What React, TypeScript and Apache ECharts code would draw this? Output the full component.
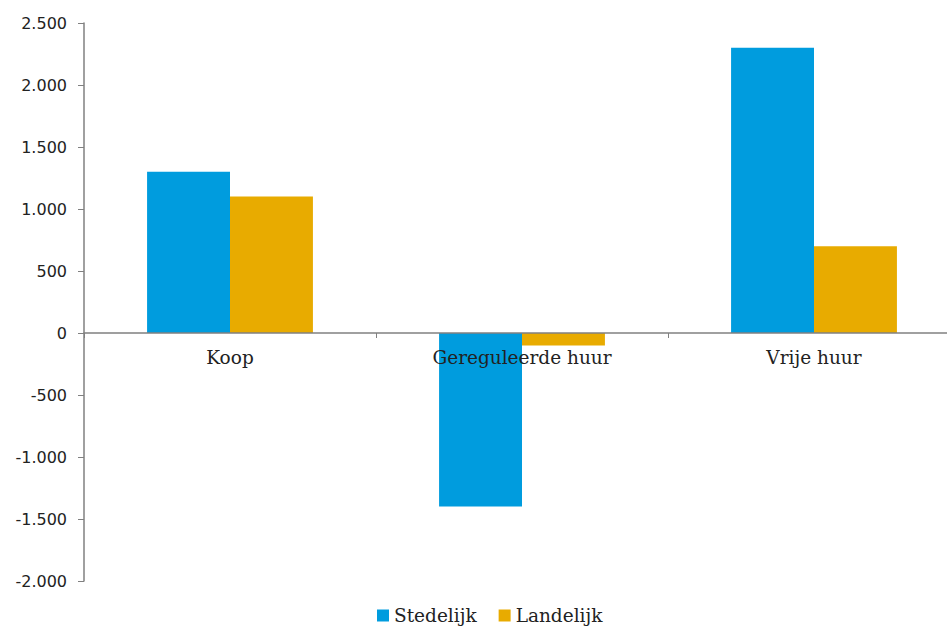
import React, { useEffect, useRef } from "react";
import * as echarts from "echarts";

const categories = ["Koop", "Gereguleerde huur", "Vrije huur"];
const stedelijk = [1300, -1400, 2300];
const landelijk = [1100, -100, 700];
const seriesNames = ["Stedelijk", "Landelijk"];

const fmt = (v: number) => {
  const s = Math.abs(v).toString().replace(/\B(?=(\d{3})+(?!\d))/g, ".");
  return (v < 0 ? "-" : "") + s;
};

export default function App() {
  const ref = useRef<HTMLDivElement>(null);
  useEffect(() => {
    if (!ref.current) return;
    const chart = echarts.init(ref.current, null, { renderer: "svg" });
    chart.setOption({
      animation: false,
      backgroundColor: "#ffffff",
      grid: { left: 84, right: 0, top: 23, bottom: 46, containLabel: false },
      legend: {
        bottom: -3,
        left: 372,
        itemWidth: 12,
        itemHeight: 12,
        itemGap: 22,
        icon: "rect",
        textStyle: { fontFamily: "DejaVu Serif", fontSize: 18.5, color: "#222" },
        data: seriesNames,
      },
      xAxis: {
        type: "category",
        data: categories,
        z: 5,
        axisLine: { onZero: true, lineStyle: { color: "#808080", width: 1.5 } },
        axisTick: { show: true, inside: false, length: 5, lineStyle: { color: "#808080" } },
        axisLabel: {
          fontFamily: "DejaVu Serif",
          fontSize: 18.5,
          color: "#222",
          margin: -233,
        },
      },
      yAxis: {
        type: "value",
        min: -2000,
        max: 2500,
        interval: 500,
        splitLine: { show: false },
        axisLine: { show: true, lineStyle: { color: "#808080", width: 1.5 } },
        axisTick: { show: true, length: 6, lineStyle: { color: "#808080" } },
        axisLabel: {
          fontFamily: "DejaVu Sans",
          fontSize: 16,
          color: "#222",
          margin: 17,
          formatter: (v: number) => fmt(v),
        },
      },
      series: [
        {
          name: seriesNames[0],
          type: "bar",
          data: stedelijk,
          barWidth: "28.4%",
          barGap: "0%",
          itemStyle: { color: "#009CDE" },
        },
        {
          name: seriesNames[1],
          type: "bar",
          data: landelijk,
          barWidth: "28.4%",
          itemStyle: { color: "#E8AB00" },
        },
      ],
    });
    return () => chart.dispose();
  }, []);
  return (
    <div
      style={{
        position: "fixed",
        left: 0,
        top: 0,
        width: 947,
        height: 627,
        overflow: "hidden",
        background: "#fff",
      }}
    >
      <div ref={ref} style={{ width: 960, height: 627 }} />
    </div>
  );
}
